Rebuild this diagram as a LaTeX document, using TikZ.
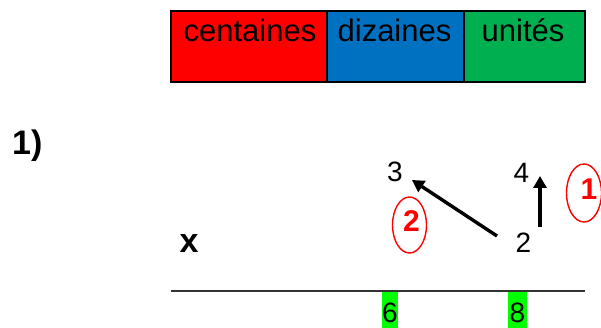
\documentclass[tikz,border=0pt]{standalone}
\usepackage{fontspec}
\setmainfont{Liberation Sans}
\usetikzlibrary{arrows.meta}
\definecolor{cred}{HTML}{FF0000}
\definecolor{cblue}{HTML}{0070C0}
\definecolor{cgreen}{HTML}{00B050}
\definecolor{hgreen}{HTML}{00FF00}
\begin{document}
\begin{tikzpicture}[x=1pt,y=-1pt,
  celltext/.style={anchor=base,font=\fontsize{31}{32}\selectfont,inner sep=0pt},
  digit/.style={anchor=base,font=\fontsize{28}{29}\selectfont,inner sep=0pt},
  bigbold/.style={anchor=base,font=\fontsize{34}{36}\selectfont\bfseries,inner sep=0pt},
  redring/.style={draw=cred,line width=1.4pt},
  reddigit/.style={anchor=base,text=cred,font=\fontsize{30}{31}\selectfont\bfseries,inner sep=0pt},
  hl/.style={fill=hgreen,draw=none},
  frame/.style={line width=1.4pt},
  arr/.style={line width=3.4pt,-{Triangle[length=12pt,width=13pt]}}
]
\useasboundingbox (0,0) rectangle (601,328);
% table
\fill[cred] (171,11) rectangle (327,82);
\fill[cblue] (327,11) rectangle (464,82);
\fill[cgreen] (464,11) rectangle (585,82);
\draw[frame] (171,11) rectangle (585,82);
\draw[frame] (327,11) -- (327,82);
\draw[frame] (464,11) -- (464,82);
\node[celltext] (c) at (250,42) {centaines};
\node[celltext] (d) at (394.5,42) {dizaines};
\node[celltext] (u) at (523,42) {unités};
% labels
\node[bigbold,anchor=base west] (one) at (12,155) {1)};
\node[bigbold] (x) at (189,252) {x};
% digits
\node[digit] (d3) at (395,182) {3};
\node[digit] (d4) at (521.5,183) {4};
\node[digit] (d2) at (523.5,252) {2};
% rule
\draw[line width=2pt,color=black!80] (171,291) -- (585,291);
\fill[hl] (382,292) rectangle (398,328);
\fill[hl] (508,292) rectangle (527,328);
\node[digit] (r6) at (390,322) {6};
\node[digit] (r8) at (517.5,322) {8};
% arrows
\coordinate (a1s) at (497,236);
\coordinate (a1e) at (412,180);
\coordinate (a2s) at (540,227);
\coordinate (a2e) at (540,176);
\draw[arr] (a1s) -- (a1e);
\draw[arr] (a2s) -- (a2e);
% red marks
\draw[redring] (409.5,225) ellipse [x radius=17pt,y radius=28pt];
\node[reddigit] (m2) at (411.5,232) {2};
\draw[redring] (584,193) ellipse [x radius=17.5pt,y radius=29pt];
\node[reddigit] (m1) at (589,200) {1};
\end{tikzpicture}
\end{document}
